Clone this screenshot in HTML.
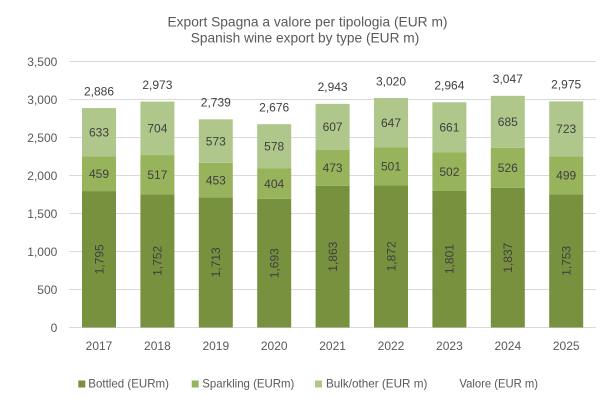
<!DOCTYPE html>
<html>
<head>
<meta charset="utf-8">
<style>
  html,body{margin:0;padding:0;background:#fff;}
  svg{display:block;}
  text{font-family:"Liberation Sans",Arial,sans-serif;}
</style>
</head>
<body>
<svg width="612" height="403" viewBox="0 0 612 403" xmlns="http://www.w3.org/2000/svg">
  <rect width="612" height="403" fill="#ffffff"/>
  <!-- title -->
  <text x="307.5" y="26.3" font-size="13.8" fill="#595959" text-anchor="middle" textLength="280" lengthAdjust="spacingAndGlyphs">Export Spagna a valore per tipologia (EUR m)</text>
  <text x="305" y="42.5" font-size="13.8" fill="#595959" text-anchor="middle" textLength="228.6" lengthAdjust="spacingAndGlyphs">Spanish wine export by type (EUR m)</text>

  <!-- gridlines -->
  <g stroke="#d9d9d9" stroke-width="1">
    <line x1="69" y1="61.5" x2="596" y2="61.5"/>
    <line x1="69" y1="99.5" x2="596" y2="99.5"/>
    <line x1="69" y1="137.5" x2="596" y2="137.5"/>
    <line x1="69" y1="175.5" x2="596" y2="175.5"/>
    <line x1="69" y1="213.5" x2="596" y2="213.5"/>
    <line x1="69" y1="251.5" x2="596" y2="251.5"/>
    <line x1="69" y1="289.5" x2="596" y2="289.5"/>
    <line x1="69" y1="327.5" x2="596" y2="327.5"/>
  </g>

  <!-- y axis labels -->
  <g font-size="12" fill="#595959" text-anchor="end">
    <text x="57.3" y="65.8">3,500</text>
    <text x="57.3" y="103.8">3,000</text>
    <text x="57.3" y="141.8">2,500</text>
    <text x="57.3" y="179.8">2,000</text>
    <text x="57.3" y="217.8">1,500</text>
    <text x="57.3" y="255.8">1,000</text>
    <text x="57.3" y="293.8">500</text>
    <text x="57.3" y="331.8">0</text>
  </g>

  <!-- bars: bottled -->
  <g fill="#78913f">
    <rect x="82" y="191.08" width="34" height="136.42"/>
    <rect x="140.4" y="194.35" width="34" height="133.15"/>
    <rect x="198.8" y="197.31" width="34" height="130.19"/>
    <rect x="257.2" y="198.83" width="34" height="128.67"/>
    <rect x="315.6" y="185.91" width="34" height="141.59"/>
    <rect x="374" y="185.23" width="34" height="142.27"/>
    <rect x="432.4" y="190.62" width="34" height="136.88"/>
    <rect x="490.8" y="187.89" width="34" height="139.61"/>
    <rect x="549.2" y="194.27" width="34" height="133.23"/>
  </g>
  <!-- sparkling -->
  <g fill="#97b35b">
    <rect x="82" y="156.20" width="34" height="34.88"/>
    <rect x="140.4" y="155.06" width="34" height="39.29"/>
    <rect x="198.8" y="162.88" width="34" height="34.43"/>
    <rect x="257.2" y="168.13" width="34" height="30.70"/>
    <rect x="315.6" y="149.96" width="34" height="35.95"/>
    <rect x="374" y="147.15" width="34" height="38.08"/>
    <rect x="432.4" y="152.47" width="34" height="38.15"/>
    <rect x="490.8" y="147.91" width="34" height="39.98"/>
    <rect x="549.2" y="156.35" width="34" height="37.92"/>
  </g>
  <!-- bulk -->
  <g fill="#afc78a">
    <rect x="82" y="108.09" width="34" height="48.11"/>
    <rect x="140.4" y="101.56" width="34" height="53.50"/>
    <rect x="198.8" y="119.33" width="34" height="43.55"/>
    <rect x="257.2" y="124.20" width="34" height="43.93"/>
    <rect x="315.6" y="103.83" width="34" height="46.13"/>
    <rect x="374" y="97.98" width="34" height="49.17"/>
    <rect x="432.4" y="102.23" width="34" height="50.24"/>
    <rect x="490.8" y="95.85" width="34" height="52.06"/>
    <rect x="549.2" y="101.40" width="34" height="54.95"/>
  </g>

  <!-- data labels -->
  <g font-size="12" fill="#404040" text-anchor="middle">
    <!-- totals -->
    <text x="99" y="95.4">2,886</text>
    <text x="157.4" y="88.9">2,973</text>
    <text x="215.8" y="106.6">2,739</text>
    <text x="274.2" y="111.5">2,676</text>
    <text x="332.6" y="91.1">2,943</text>
    <text x="391" y="85.3">3,020</text>
    <text x="449.4" y="89.5">2,964</text>
    <text x="507.8" y="83.2">3,047</text>
    <text x="566.2" y="88.7">2,975</text>
    <!-- bulk -->
    <text x="99" y="136.4">633</text>
    <text x="157.4" y="132.6">704</text>
    <text x="215.8" y="145.4">573</text>
    <text x="274.2" y="150.5">578</text>
    <text x="332.6" y="131.2">607</text>
    <text x="391" y="126.9">647</text>
    <text x="449.4" y="131.6">661</text>
    <text x="507.8" y="126.2">685</text>
    <text x="566.2" y="133.2">723</text>
    <!-- sparkling -->
    <text x="99" y="177.9">459</text>
    <text x="157.4" y="179.0">517</text>
    <text x="215.8" y="184.4">453</text>
    <text x="274.2" y="187.8">404</text>
    <text x="332.6" y="172.2">473</text>
    <text x="391" y="170.5">501</text>
    <text x="449.4" y="175.8">502</text>
    <text x="507.8" y="172.2">526</text>
    <text x="566.2" y="179.6">499</text>
    <!-- bottled (rotated) -->
    <text transform="translate(99,259.3) rotate(-90)" y="4.3">1,795</text>
    <text transform="translate(157.4,260.9) rotate(-90)" y="4.3">1,752</text>
    <text transform="translate(215.8,262.4) rotate(-90)" y="4.3">1,713</text>
    <text transform="translate(274.2,263.2) rotate(-90)" y="4.3">1,693</text>
    <text transform="translate(332.6,256.7) rotate(-90)" y="4.3">1,863</text>
    <text transform="translate(391,256.4) rotate(-90)" y="4.3">1,872</text>
    <text transform="translate(449.4,259.1) rotate(-90)" y="4.3">1,801</text>
    <text transform="translate(507.8,257.7) rotate(-90)" y="4.3">1,837</text>
    <text transform="translate(566.2,260.9) rotate(-90)" y="4.3">1,753</text>
  </g>

  <!-- x axis labels -->
  <g font-size="12" fill="#595959" text-anchor="middle">
    <text x="99" y="350">2017</text>
    <text x="157.4" y="350">2018</text>
    <text x="215.8" y="350">2019</text>
    <text x="274.2" y="350">2020</text>
    <text x="332.6" y="350">2021</text>
    <text x="391" y="350">2022</text>
    <text x="449.4" y="350">2023</text>
    <text x="507.8" y="350">2024</text>
    <text x="566.2" y="350">2025</text>
  </g>

  <!-- legend -->
  <rect x="78.3" y="380.5" width="7" height="7" fill="#78913f"/>
  <rect x="191.7" y="380.5" width="7" height="7" fill="#97b35b"/>
  <rect x="315" y="380.5" width="7" height="7" fill="#afc78a"/>
  <g font-size="12" fill="#595959">
    <text x="88.3" y="387.3" textLength="80.7" lengthAdjust="spacingAndGlyphs">Bottled (EURm)</text>
    <text x="202.3" y="387.3" textLength="92" lengthAdjust="spacingAndGlyphs">Sparkling (EURm)</text>
    <text x="326" y="387.3" textLength="101.4" lengthAdjust="spacingAndGlyphs">Bulk/other (EUR m)</text>
    <text x="459.4" y="387.3" textLength="78.6" lengthAdjust="spacingAndGlyphs">Valore (EUR m)</text>
  </g>
</svg>
</body>
</html>
